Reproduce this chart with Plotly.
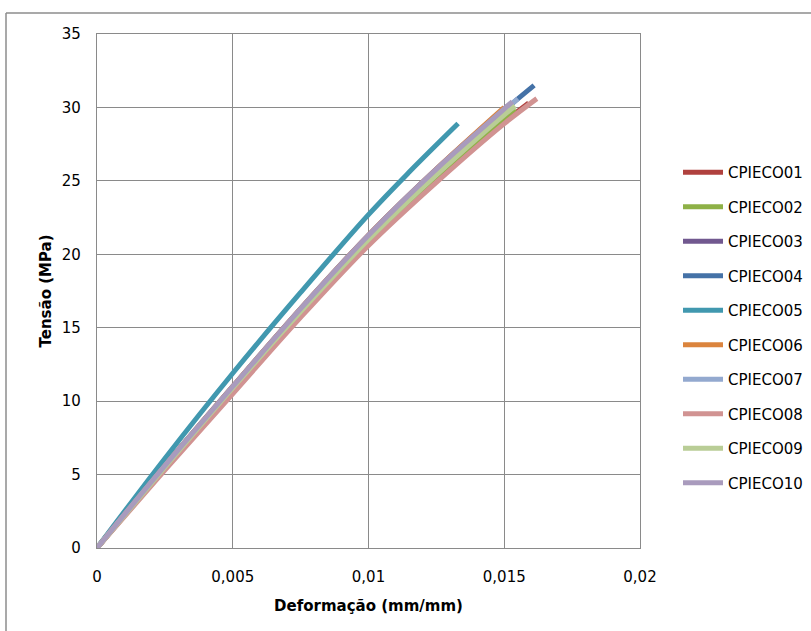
import plotly.graph_objects as go

# Stress-strain curves of the CPIECO specimens
series_names = ["CPIECO01", "CPIECO02", "CPIECO03", "CPIECO04", "CPIECO05",
                "CPIECO06", "CPIECO07", "CPIECO08", "CPIECO09", "CPIECO10"]

strain_01 = [0, 0.0025, 0.005, 0.0075, 0.01, 0.0125, 0.015, 0.0159]
stress_01 = [0, 5.4, 10.6, 15.8, 20.7, 25.1, 29.0, 30.3]

strain_02 = [0, 0.0025, 0.005, 0.0075, 0.01, 0.0125, 0.015, 0.0154]
stress_02 = [0, 5.5, 10.8, 16.0, 20.9, 25.3, 29.3, 29.9]

strain_03 = [0, 0.0025, 0.005, 0.0075, 0.01, 0.0125, 0.015, 0.0152]
stress_03 = [0, 5.6, 11.0, 16.3, 21.3, 25.8, 29.9, 30.2]

strain_04 = [0, 0.0025, 0.005, 0.0075, 0.01, 0.0125, 0.015, 0.0161]
stress_04 = [0, 5.6, 10.9, 16.2, 21.2, 25.7, 29.8, 31.5]

strain_05 = [0, 0.0025, 0.005, 0.0075, 0.01, 0.0115, 0.0133]
stress_05 = [0, 6.1, 11.9, 17.4, 22.7, 25.6, 28.9]

strain_06 = [0, 0.0025, 0.005, 0.0075, 0.01, 0.0125, 0.015]
stress_06 = [0, 5.6, 11.0, 16.3, 21.3, 25.8, 30.0]

strain_07 = [0, 0.0025, 0.005, 0.0075, 0.01, 0.0125, 0.015, 0.0155]
stress_07 = [0, 5.6, 10.9, 16.2, 21.2, 25.7, 29.8, 30.6]

strain_08 = [0, 0.0025, 0.005, 0.0075, 0.01, 0.0125, 0.015, 0.0162]
stress_08 = [0, 5.3, 10.5, 15.7, 20.6, 24.9, 28.9, 30.6]

strain_09 = [0, 0.0025, 0.005, 0.0075, 0.01, 0.0125, 0.015, 0.0154]
stress_09 = [0, 5.5, 10.9, 16.1, 21.0, 25.4, 29.5, 30.1]

strain_10 = [0, 0.0025, 0.005, 0.0075, 0.01, 0.0125, 0.015, 0.0153]
stress_10 = [0, 5.6, 11.0, 16.3, 21.3, 25.8, 29.9, 30.4]

x_tick_vals = [0, 0.005, 0.01, 0.015, 0.02]
x_tick_text = ["0", "0,005", "0,01", "0,015", "0,02"]
y_tick_vals = [0, 5, 10, 15, 20, 25, 30, 35]
y_tick_text = ["0", "5", "10", "15", "20", "25", "30", "35"]

strains = [strain_01, strain_02, strain_03, strain_04, strain_05,
           strain_06, strain_07, strain_08, strain_09, strain_10]
stresses = [stress_01, stress_02, stress_03, stress_04, stress_05,
            stress_06, stress_07, stress_08, stress_09, stress_10]
colors = ["#B0413E", "#8EB147", "#71588F", "#4572A7", "#4198AF",
          "#DB843D", "#93A9CF", "#D19392", "#B9CD96", "#A99BBD"]

FONT = "DejaVu Sans"
GRID = "#8A8A8A"

fig = go.Figure()
for name, xs, ys, c in zip(series_names, strains, stresses, colors):
    fig.add_trace(go.Scatter(
        x=xs, y=ys, name=name, mode="lines", legendgroup=name,
        line=dict(color=c, width=5, shape="spline", smoothing=1.0),
    ))

W, H = 811, 631
L, R, T, B = 97, 640, 34, 548
pw, ph = R - L, B - T

def px(xp):
    return (xp - L) / pw

def py(yp):
    return (B - yp) / ph

fig.update_layout(
    width=W, height=H,
    margin=dict(l=L, r=W - R, t=T, b=H - B, pad=0, autoexpand=False),
    paper_bgcolor="white", plot_bgcolor="white",
    font=dict(family=FONT, size=15, color="#000000"),
    showlegend=True,
    legend=dict(
        xref="container", yref="container",
        x=678 / W, y=(H - 156) / H, xanchor="left", yanchor="top",
        font=dict(family=FONT, size=15, color="#000000"),
        tracegroupgap=12, itemwidth=40, maxheight=560,
        bgcolor="rgba(0,0,0,0)",
    ),
    xaxis=dict(
        range=[0, 0.02], tickvals=x_tick_vals, ticktext=x_tick_text,
        showgrid=True, gridcolor=GRID, gridwidth=1.3,
        showline=True, linecolor=GRID, linewidth=1.3, mirror=True,
        zeroline=False, ticks="", ticklabelstandoff=15,
        tickfont=dict(family=FONT, size=15),
        title=dict(text="<b>Deformação (mm/mm)</b>", standoff=15,
                   font=dict(family=FONT, size=15)),
    ),
    yaxis=dict(
        range=[0, 35], tickvals=y_tick_vals, ticktext=y_tick_text,
        showgrid=True, gridcolor=GRID, gridwidth=1.3,
        showline=True, linecolor=GRID, linewidth=1.3, mirror=True,
        zeroline=False, ticks="", ticklabelstandoff=12,
        tickfont=dict(family=FONT, size=15),
        title=dict(text="<b>Tensão (MPa)</b>", standoff=6,
                   font=dict(family=FONT, size=15)),
    ),
    shapes=[
        dict(type="line", xref="paper", yref="paper",
             x0=px(6), x1=px(812), y0=py(13), y1=py(13),
             line=dict(color="#8C8C8C", width=1.5)),
        dict(type="line", xref="paper", yref="paper",
             x0=px(6), x1=px(6), y0=py(13), y1=py(632),
             line=dict(color="#8C8C8C", width=1.5)),
    ],
)

fig.write_html("out.html")
